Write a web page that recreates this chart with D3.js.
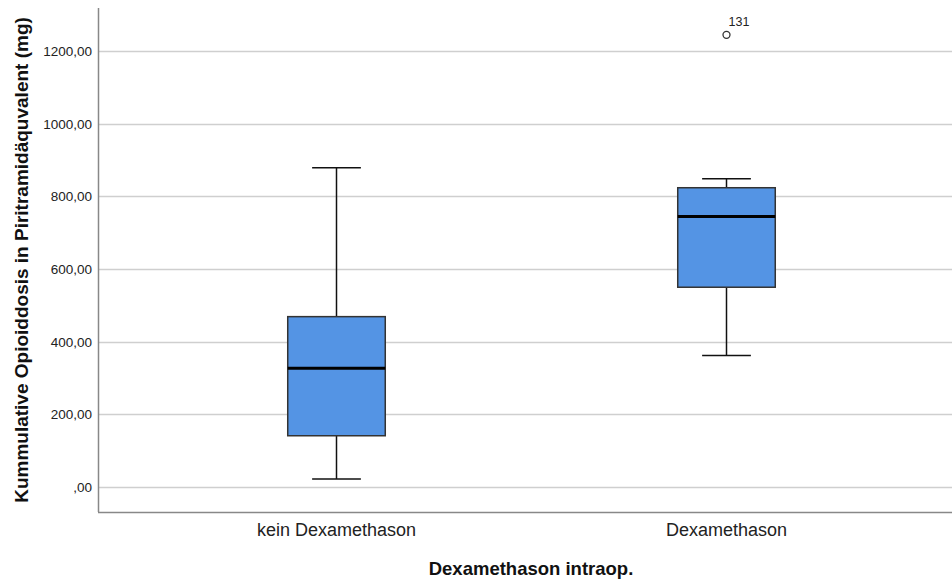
<!DOCTYPE html>
<html>
<head>
<meta charset="utf-8">
<script src="https://cdn.jsdelivr.net/npm/d3@7"></script>
<style>
    body { margin: 0; background: #fff; }
    text { font-family: "Liberation Sans", Arial, sans-serif; }
</style>
</head>
<body>
<div id="chart"></div>
<script>

// categories and box stats
var categories = ["kein Dexamethason", "Dexamethason"]
var whiskerLow = [22, 362]
var q1 = [141, 550]
var median = [327, 745]
var q3 = [469, 824]
var whiskerHigh = [879, 849]
var outliers = [[], [{value: 1245, label: "131"}]]

var yTicks = [0, 200, 400, 600, 800, 1000, 1200]

var xsize = 952, ysize = 581
var margin = {top: 8, right: -12, bottom: 69, left: 98}
var width = xsize - margin.left - margin.right
var height = ysize - margin.top - margin.bottom

var svg = d3.select("#chart")
    .append("svg")
        .attr("width", xsize)
        .attr("height", ysize)
    .append("g")
        .attr("transform", "translate(" + margin.left + "," + margin.top + ")")

var x = d3.scalePoint()
    .domain(categories)
    .range([0, width])
    .padding(0.61)

var y = d3.scaleLinear()
    .domain([-69, 1319])
    .range([height, 0])

var fmt = function(d){
    var s = d3.format(".2f")(d).replace(".", ",")
    return s.replace(/^0,/, ",")
}

// gridlines
svg.append("g")
    .selectAll("line")
    .data(yTicks)
    .enter()
    .append("line")
        .attr("x1", 0)
        .attr("x2", width)
        .attr("y1", d => Math.round(y(d)) + 0.5)
        .attr("y2", d => Math.round(y(d)) + 0.5)
        .attr("stroke", "#cfcfcf")
        .attr("stroke-width", 1.5)

// y tick labels
var yAxis = svg.append("g")
    .call(d3.axisLeft(y).tickValues(yTicks).tickSize(0).tickPadding(6).tickFormat(fmt))
yAxis.select(".domain").remove()
yAxis.selectAll("text")
    .style("font-size", "13.5px")
    .attr("fill", "#222")

// axis lines
svg.append("line")
    .attr("x1", 0.5).attr("x2", 0.5)
    .attr("y1", 0).attr("y2", height)
    .attr("stroke", "#888").attr("stroke-width", 1.5)
svg.append("line")
    .attr("x1", 0).attr("x2", width)
    .attr("y1", height + 0.5).attr("y2", height + 0.5)
    .attr("stroke", "#888").attr("stroke-width", 1.5)

// x tick labels
var xAxis = svg.append("g")
    .attr("transform", "translate(0," + height + ")")
    .call(d3.axisBottom(x).tickSize(0).tickPadding(11))
xAxis.select(".domain").remove()
xAxis.selectAll("text")
    .style("font-size", "18px")
    .attr("fill", "#222")

var boxWidth = x.step() * 0.25
var capWidth = boxWidth / 2

categories.forEach((cat, i) => {
    var cx = Math.round(x(cat)) + 0.5

    // whiskers
    svg.append("line")
        .attr("x1", cx).attr("x2", cx)
        .attr("y1", y(whiskerHigh[i])).attr("y2", y(q3[i]))
        .attr("stroke", "#111").attr("stroke-width", 1.5)
    svg.append("line")
        .attr("x1", cx).attr("x2", cx)
        .attr("y1", y(q1[i])).attr("y2", y(whiskerLow[i]))
        .attr("stroke", "#111").attr("stroke-width", 1.5)
    svg.append("line")
        .attr("x1", cx - capWidth / 2).attr("x2", cx + capWidth / 2)
        .attr("y1", y(whiskerHigh[i])).attr("y2", y(whiskerHigh[i]))
        .attr("stroke", "#111").attr("stroke-width", 1.5)
    svg.append("line")
        .attr("x1", cx - capWidth / 2).attr("x2", cx + capWidth / 2)
        .attr("y1", y(whiskerLow[i])).attr("y2", y(whiskerLow[i]))
        .attr("stroke", "#111").attr("stroke-width", 1.5)

    // box
    svg.append("rect")
        .attr("x", cx - boxWidth / 2)
        .attr("y", y(q3[i]))
        .attr("width", boxWidth)
        .attr("height", y(q1[i]) - y(q3[i]))
        .attr("fill", "#5494e4")
        .attr("stroke", "#333")
        .attr("stroke-width", 1.5)

    // median
    svg.append("line")
        .attr("x1", cx - boxWidth / 2).attr("x2", cx + boxWidth / 2)
        .attr("y1", y(median[i])).attr("y2", y(median[i]))
        .attr("stroke", "#000").attr("stroke-width", 3)

    // outliers
    outliers[i].forEach(o => {
        svg.append("circle")
            .attr("cx", cx)
            .attr("cy", y(o.value))
            .attr("r", 3.5)
            .attr("fill", "none")
            .attr("stroke", "#333")
            .attr("stroke-width", 1.3)
        svg.append("text")
            .attr("x", cx + 2)
            .attr("y", y(o.value) - 9)
            .style("font-size", "12.5px")
            .attr("fill", "#222")
            .text(o.label)
    })
})

// vertical axis label
svg.append("g")
    .attr("transform", "translate(" + -70 + ", " + height / 2 + ")")
    .append("text")
        .attr("text-anchor", "middle")
        .attr("transform", "rotate(-90)")
        .style("font-size", "19px")
        .style("font-weight", "bold")
        .attr("fill", "#111")
        .text("Kummulative Opioiddosis in Piritramidäquvalent (mg)")

// horizontal axis label
svg.append("text")
    .attr("x", width / 2)
    .attr("y", height + 63)
    .attr("text-anchor", "middle")
    .style("font-size", "18.5px")
    .style("font-weight", "bold")
    .attr("fill", "#111")
    .text("Dexamethason intraop.")

</script>
</body>
</html>
